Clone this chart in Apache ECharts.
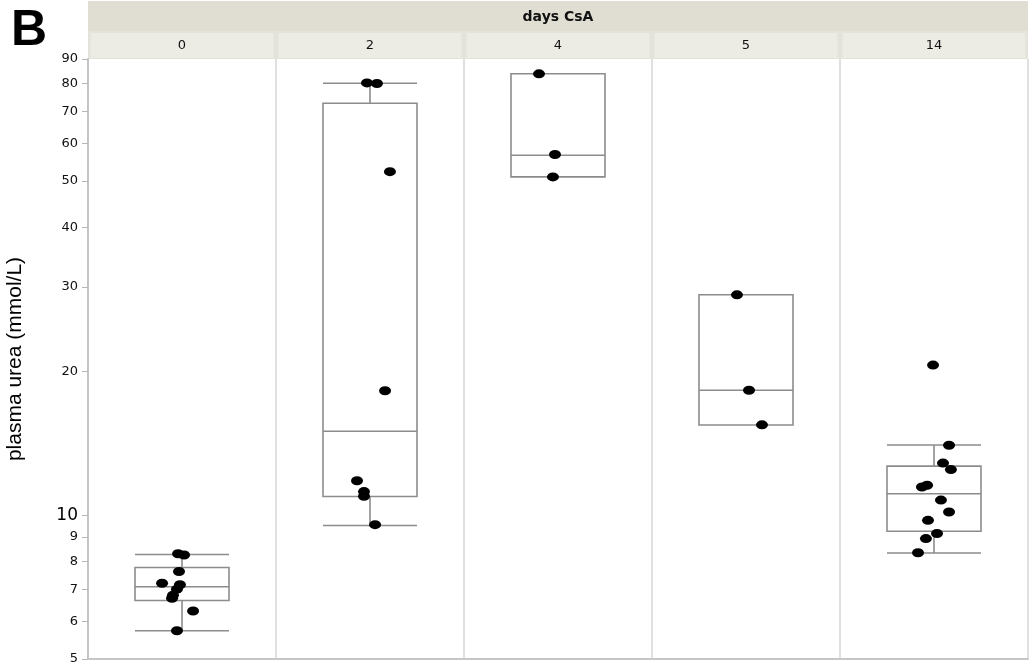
<!DOCTYPE html>
<html><head><meta charset="utf-8">
<script src="https://cdn.jsdelivr.net/npm/echarts@6/dist/echarts.min.js"></script>
<style>html,body{margin:0;padding:0;background:#fff}#c{width:1033px;height:668px}</style>
</head><body><div id="c"></div>
<script>
// ---- data ----
const categories = ['0', '2', '4', '5', '14'];
// [lower whisker, Q1, median, Q3, upper whisker]
const boxStats = [
  [5.73, 6.63, 7.08, 7.77, 8.27],
  [9.51, 10.94, 14.98, 72.7, 80.1],
  [51.0, 51.0, 56.6, 83.8, 83.8],
  [15.44, 15.44, 18.25, 28.9, 28.9],
  [8.33, 9.25, 11.08, 12.66, 14.02]
];
const values0 = [8.3, 8.25, 7.62, 7.2, 7.15, 7.0, 6.8, 6.7, 6.3, 5.73];
const values2 = [80.2, 80.0, 52.3, 18.2, 11.8, 11.2, 10.95, 9.55];
const values4 = [83.8, 56.8, 51.0];
const values5 = [28.9, 18.25, 15.45];
const values14 = [20.6, 14.0, 12.85, 12.45, 11.45, 11.55, 10.75, 10.15, 9.75, 9.15, 8.93, 8.34];
// horizontal jitter of each point, as a fraction of the panel width
const jitter0 = [-0.021, 0.011, -0.016, -0.106, -0.011, -0.027, -0.048, -0.053, 0.059, -0.027];
const jitter2 = [-0.016, 0.037, 0.106, 0.080, -0.069, -0.032, -0.032, 0.027];
const jitter4 = [-0.101, -0.016, -0.027];
const jitter5 = [-0.048, 0.016, 0.085];
const jitter14 = [-0.005, 0.080, 0.048, 0.090, -0.064, -0.037, 0.037, 0.080, -0.032, 0.016, -0.043, -0.085];
const yTicks = [5, 6, 7, 8, 9, 10, 20, 30, 40, 50, 60, 70, 80, 90];

// ---- build ----
const allValues = [values0, values2, values4, values5, values14];
const allJitter = [jitter0, jitter2, jitter4, jitter5, jitter14];
const scatterData = [];
allValues.forEach((vals, i) => vals.forEach((v, j) => scatterData.push([i + 0.5 + allJitter[i][j], v])));

const G = { left: 88, right: 5, top: 59, bottom: 9 };
const W = 1033, plotW = W - G.left - G.right;

const chart = echarts.init(document.getElementById('c'), null, { renderer: 'canvas' });
chart.setOption({
  animation: false,
  backgroundColor: '#ffffff',
  grid: { left: G.left, right: G.right, top: G.top, bottom: G.bottom, containLabel: false, outerBoundsMode: 'none' },
  graphic: [
    { type: 'rect', z: 0, shape: { x: G.left, y: 1, width: plotW, height: 30 }, style: { fill: '#e0ded3' } },
    { type: 'rect', z: 0, shape: { x: G.left, y: 31, width: plotW, height: 28 }, style: { fill: '#e3e2db' } },
    { type: 'text', z: 10, x: G.left + plotW / 2, y: 17, style: { text: 'days CsA', font: 'bold 14px "DejaVu Sans"', fill: '#111', align: 'center', verticalAlign: 'middle' } },
    { type: 'text', z: 10, x: 11, y: 6, style: { text: 'B', font: 'bold 50px "Liberation Sans"', fill: '#000' } }
  ],
  xAxis: [
    {
      type: 'category', data: categories, position: 'top', boundaryGap: true,
      axisLine: { show: false }, axisTick: { show: false },
      splitLine: { show: true, lineStyle: { color: '#e0e0e0', width: 2 } },
      axisLabel: {
        margin: 1, color: '#111', fontFamily: 'DejaVu Sans', fontSize: 13,
        backgroundColor: '#ecebe4', width: 183, height: 25, lineHeight: 25, align: 'center'
      }
    },
    {
      type: 'value', min: 0, max: 5, position: 'bottom',
      axisLine: { show: true, lineStyle: { color: '#c6c6c6', width: 2 } },
      axisTick: { show: false }, axisLabel: { show: false }, splitLine: { show: false }
    }
  ],
  yAxis: {
    type: 'log', logBase: 10, min: 5, max: 90,
    name: 'plasma urea (mmol/L)', nameLocation: 'middle', nameGap: 62, nameRotate: 90,
    nameTextStyle: { fontFamily: 'Liberation Sans', fontSize: 21, color: '#000' },
    axisLine: { show: true, lineStyle: { color: '#c4c4c4', width: 2 } },
    axisTick: { show: true, length: 6, customValues: yTicks, lineStyle: { color: '#b8b8b8' } },
    splitLine: { show: false }, minorTick: { show: false },
    axisLabel: {
      customValues: yTicks, margin: 10, color: '#111',
      formatter: v => (v === 10 ? '{big|10}' : '{n|' + v + '}'),
      rich: {
        n: { fontFamily: 'DejaVu Sans', fontSize: 13, color: '#111' },
        big: { fontFamily: 'DejaVu Sans', fontSize: 17, color: '#000' }
      }
    }
  },
  series: [
    {
      type: 'boxplot', xAxisIndex: 0, yAxisIndex: 0, data: boxStats,
      boxWidth: [94, 94],
      itemStyle: { color: 'rgba(0,0,0,0)', borderColor: '#8c8c8c', borderWidth: 1.6 },
      emphasis: { disabled: true }
    },
    {
      type: 'scatter', xAxisIndex: 1, yAxisIndex: 0, data: scatterData, z: 5,
      symbol: 'circle', symbolSize: [12, 9],
      itemStyle: { color: '#000', opacity: 1 }
    }
  ]
});
</script></body></html>
